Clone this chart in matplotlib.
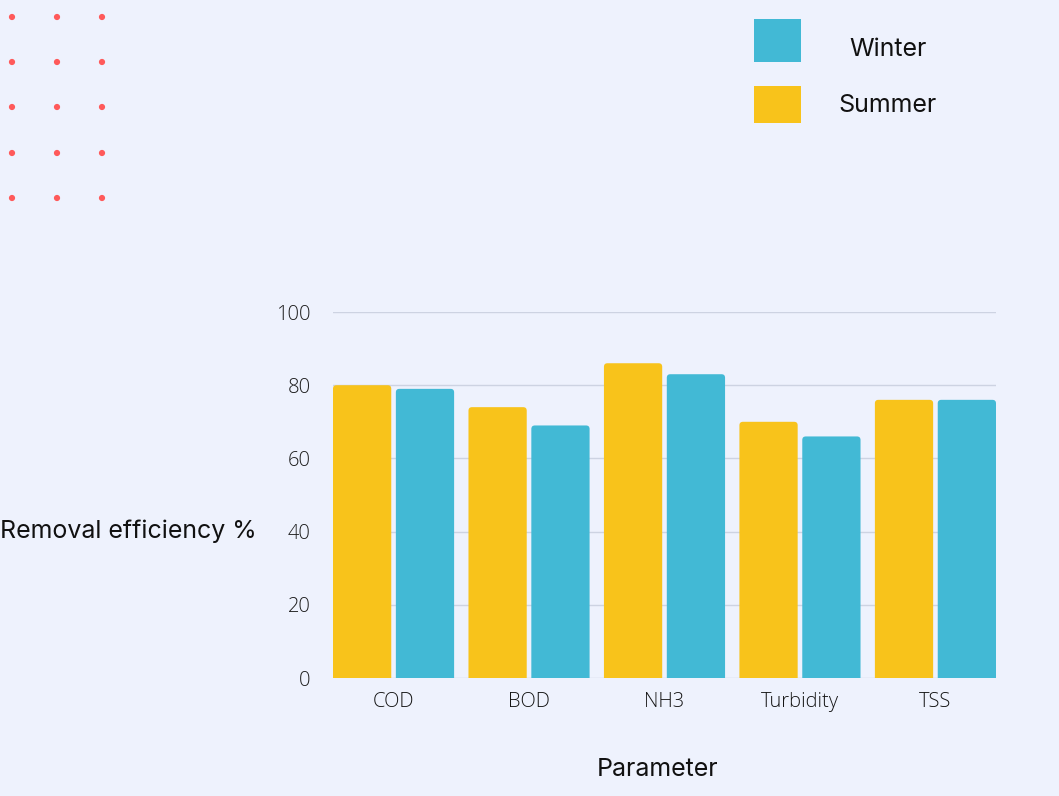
import matplotlib
matplotlib.use("Agg")
import matplotlib.pyplot as plt
from matplotlib.patches import FancyBboxPatch
import numpy as np

categories = ["COD", "BOD", "NH3", "Turbidity", "TSS"]
summer = [80, 74, 86, 70, 76]
winter = [79, 69, 83, 66, 76]
yticks = [0, 20, 40, 60, 80, 100]

BG = "#EEF2FD"
YELLOW = "#F8C31B"
BLUE = "#42B9D5"
DOT = "#FF5A5A"

W, H = 1059, 796
fig = plt.figure(figsize=(W / 100, H / 100), dpi=100, facecolor=BG)

ax = fig.add_axes([333 / W, 1 - 678 / H, (996 - 333) / W, (678 - 312) / H])
ax.set_facecolor(BG)

x = np.arange(len(categories))
bw = 0.43
off = 0.232
b1 = ax.bar(x - off, summer, bw, color=YELLOW, zorder=3)
b2 = ax.bar(x + off, winter, bw, color=BLUE, zorder=3)

ax.set_xlim(-off - bw / 2, len(categories) - 1 + off + bw / 2)
ax.set_ylim(0, 100)

# rounded top corners
xl = ax.get_xlim()
xu_per_px = (xl[1] - xl[0]) / (996 - 333)
yu_per_px = 100 / (678 - 312)
r = 3.5 * xu_per_px
for bars in (b1, b2):
    for b in bars:
        bx, by = b.get_xy()
        bwid, bh = b.get_width(), b.get_height()
        p = FancyBboxPatch((bx, by - 2), bwid, bh + 2,
                           boxstyle=f"round,pad=0,rounding_size={r}",
                           mutation_aspect=yu_per_px / xu_per_px,
                           facecolor=b.get_facecolor(), edgecolor="none",
                           zorder=3, clip_on=True)
        ax.add_patch(p)
        b.set_visible(False)

tick_font = ["Open Sans", "DejaVu Sans"]
ax.set_yticks(yticks)
ax.yaxis.grid(True, color="#CDD3E2", linewidth=1, zorder=0)
ax.set_axisbelow(True)
for s in ax.spines.values():
    s.set_visible(False)
ax.tick_params(length=0)
ax.set_xticks(x)
ax.set_xticklabels(categories, fontsize=14.5, color="#151515",
                   fontfamily=tick_font, fontweight="light")
for t in ax.get_yticklabels():
    t.set_fontsize(14.5)
    t.set_color("#1E1E1E")
    t.set_fontfamily(tick_font)
    t.set_fontweight("light")
ax.tick_params(axis="y", pad=16)
ax.tick_params(axis="x", pad=10)

lab_font = ["Inter", "DejaVu Sans"]
fig.text(0 / W, 1 - 531 / H, "Removal efficiency %", fontsize=18,
         ha="left", va="center", color="#111111", fontfamily=lab_font)
fig.text(658 / W, 1 - 770 / H, "Parameter", fontsize=18,
         ha="center", va="center", color="#111111", fontfamily=lab_font)

# legend
for (y0, y1, col, lab, ty) in [(19, 62, BLUE, "Winter", 49), (86, 123, YELLOW, "Summer", 106)]:
    fig.patches.append(plt.Rectangle((754 / W, 1 - y1 / H), 47 / W, (y1 - y0) / H,
                                     transform=fig.transFigure, facecolor=col,
                                     edgecolor="none"))
    fig.text(888 / W, 1 - ty / H, lab, fontsize=18, ha="center", va="center",
             color="#111111", fontfamily=lab_font)

# decorative dots
dot_ax = fig.add_axes([0, 0, 1, 1], facecolor="none")
dot_ax.set_xlim(0, W)
dot_ax.set_ylim(H, 0)
dot_ax.axis("off")
dx = [12, 57, 102]
dy = [17, 62, 107, 153, 198]
gx, gy = np.meshgrid(dx, dy)
dot_ax.scatter(gx.ravel(), gy.ravel(), s=20, color=DOT, edgecolors="none")

fig.savefig("out.png", dpi=100, facecolor=BG)
